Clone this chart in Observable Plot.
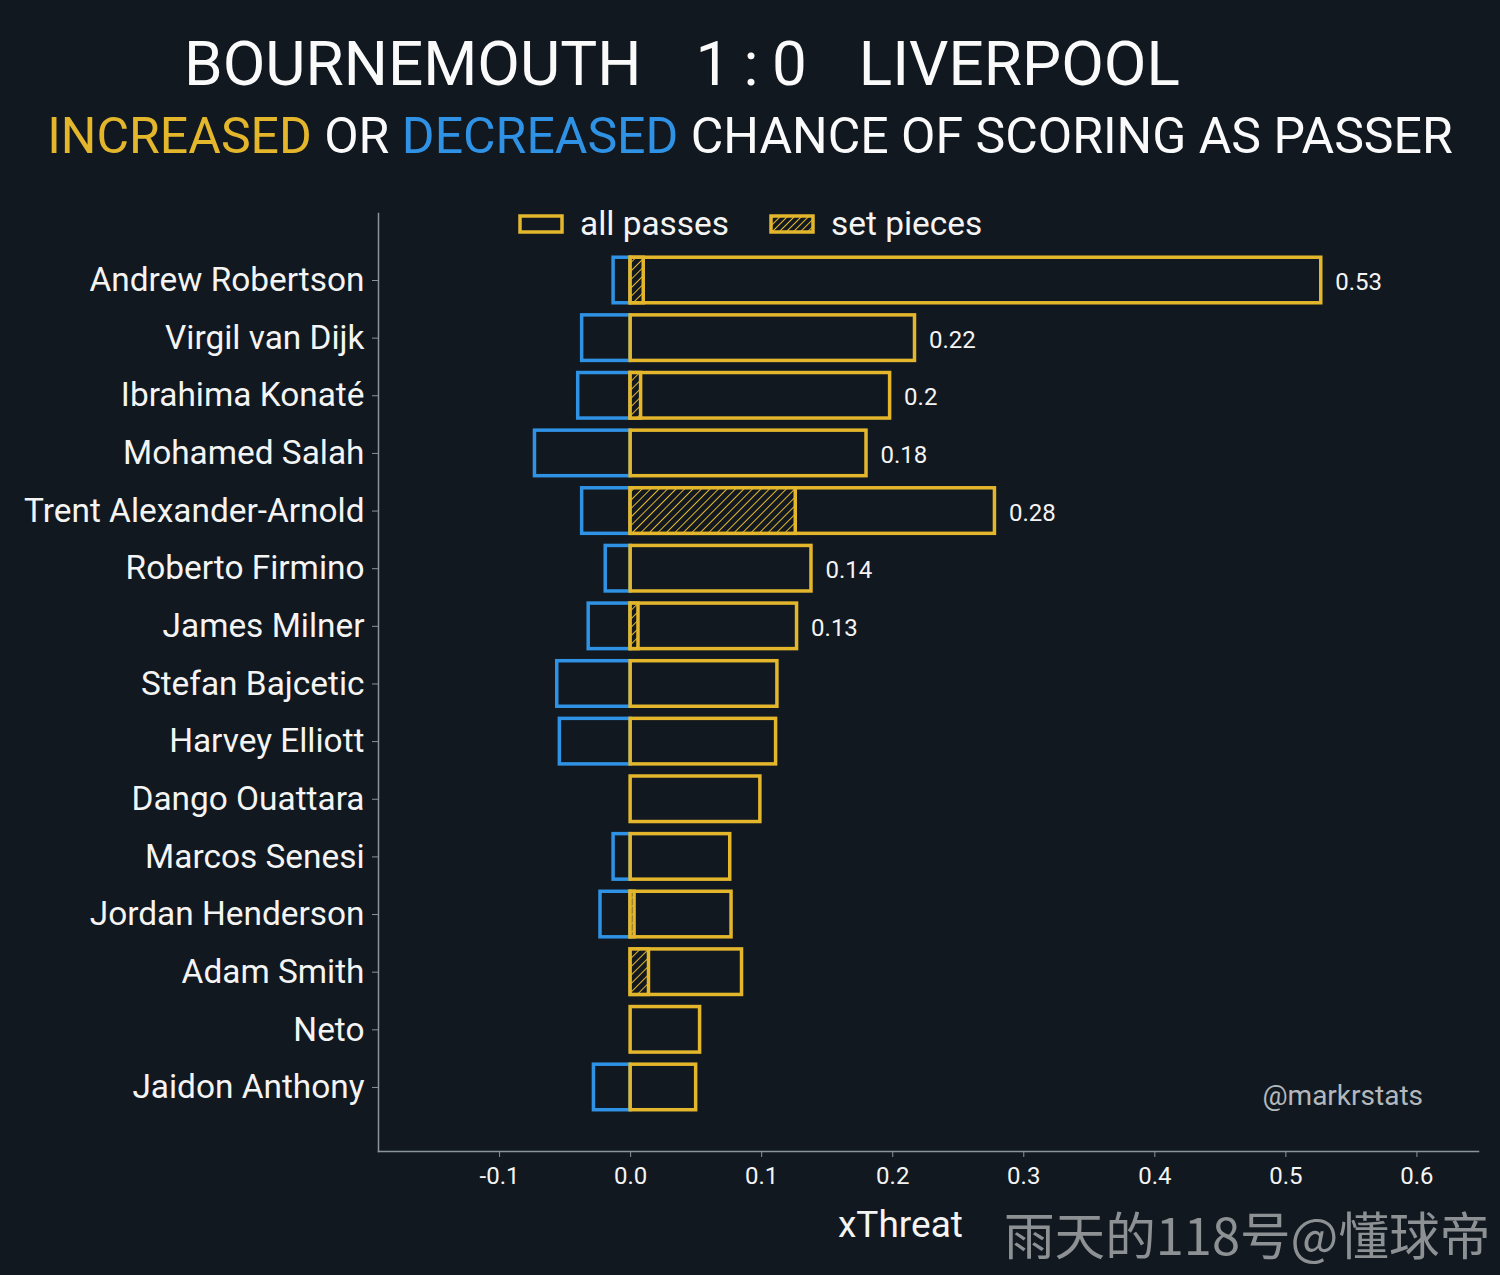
<!DOCTYPE html>
<html>
<head>
<meta charset="utf-8">
<script src="https://cdn.jsdelivr.net/npm/d3@7"></script>
<script src="https://cdn.jsdelivr.net/npm/@observablehq/plot@0.6"></script>
<style>
  html, body { margin: 0; padding: 0; background: #111820; }
  #wrap { position: relative; width: 1500px; height: 1275px; background: #111820; font-family: Roboto, "DejaVu Sans", sans-serif; color: #f4f4f4; overflow: hidden; }
  .abs { position: absolute; white-space: nowrap; }
  #title { top: 28px; left: 157px; text-align: left; font-size: 62px; line-height: 72px; color: #fafafa; }
  #title span { margin: 0 27px; }
  #title span.score { word-spacing: -2px; margin-right: 25px; }
  #subtitle { top: 104px; left: 0; width: 1500px; text-align: center; font-size: 50px; line-height: 64px; color: #fafafa; }
  .gold { color: #e3b62c; }
  .blue { color: #2f92e4; }
  #chart { position: absolute; left: 0; top: 180px; }
  #legend { top: 204px; left: 518px; font-size: 33.4px; line-height: 40px; display: flex; align-items: center; }
  #legend svg { display: block; }
  #xlabel { top: 1202px; left: 838px; font-size: 37px; line-height: 46px; }
  #credit { top: 1078px; right: 77px; font-size: 28px; line-height: 36px; color: #b3b8bd; }
  #watermark { top: 1202px; left: 1004px; font-size: 50.6px; line-height: 62px; color: #8d9194; font-family: "Noto Sans CJK SC", sans-serif; }
</style>
</head>
<body>
<div id="wrap">
  <div id="title" class="abs"><span>BOURNEMOUTH</span><span class="score">1 : 0</span><span>LIVERPOOL</span></div>
  <div id="subtitle" class="abs"><span class="gold">INCREASED</span> OR <span class="blue">DECREASED</span> CHANCE OF SCORING AS PASSER</div>
  <div id="chart"></div>
  <div id="legend" class="abs">
    <svg width="46" height="22"><rect x="2" y="3" width="42" height="16" fill="none" stroke="#e3b62c" stroke-width="3.5"/></svg>
    <span style="margin-left:16px">all passes</span>
    <svg width="46" height="22" style="margin-left:40px">
      <defs><pattern id="hatchLegend" width="5" height="5" patternUnits="userSpaceOnUse" patternTransform="rotate(45)"><line x1="0" y1="0" x2="0" y2="5" stroke="#e3b62c" stroke-width="2"/></pattern></defs>
      <rect x="2" y="3" width="42" height="16" fill="url(#hatchLegend)" stroke="#e3b62c" stroke-width="3.5"/></svg>
    <span style="margin-left:16px">set pieces</span>
  </div>
  <div id="xlabel" class="abs">xThreat</div>
  <div id="credit" class="abs">@markrstats</div>
  <div id="watermark" class="abs">雨天的118号@懂球帝</div>
</div>
<script>
const players = ["Andrew Robertson","Virgil van Dijk","Ibrahima Konaté","Mohamed Salah","Trent Alexander-Arnold","Roberto Firmino","James Milner","Stefan Bajcetic","Harvey Elliott","Dango Ouattara","Marcos Senesi","Jordan Henderson","Adam Smith","Neto","Jaidon Anthony"];
const positive = [0.527,0.217,0.198,0.180,0.278,0.138,0.127,0.112,0.111,0.099,0.076,0.077,0.085,0.053,0.050];
const negative = [-0.013,-0.037,-0.040,-0.073,-0.037,-0.019,-0.032,-0.056,-0.054,0,-0.013,-0.023,0,0,-0.028];
const setPieces = [0.010,0,0.008,0,0.126,0,0.006,0,0,0,0,0.003,0.014,0,0];
const xTicks = [-0.1,0,0.1,0.2,0.3,0.4,0.5,0.6];
const labelThreshold = 0.12;

const GOLD = "#e3b62c", BLUE = "#2f92e4";
const rows = players.map((name, i) => ({name, pos: positive[i], neg: negative[i], sp: setPieces[i]}));

const defs = () => {
  const g = d3.create("svg:defs");
  const p = g.append("pattern").attr("id", "hatch").attr("width", 6).attr("height", 6)
    .attr("patternUnits", "userSpaceOnUse").attr("patternTransform", "rotate(45)");
  p.append("rect").attr("width", 6).attr("height", 6).attr("fill", "#111820");
  p.append("line").attr("x1", 0).attr("y1", 0).attr("x2", 0).attr("y2", 6).attr("stroke", GOLD).attr("stroke-width", 2);
  return g.node();
};

const step = 57.64;
const plot = Plot.plot({
  width: 1500,
  height: 1095,
  marginLeft: 378,
  marginRight: 22,
  marginTop: 33,
  marginBottom: 124,
  style: {background: "transparent", color: "#f4f4f4", fontFamily: "Roboto, sans-serif"},
  x: {domain: [-0.1924, 0.647]},
  y: {domain: players, range: [100 - step / 2, 100 + step * 14.5], paddingInner: 0.21, paddingOuter: 0.105, round: false},
  marks: [
    defs,
    Plot.frame({anchor: "left", stroke: "#8a949c", strokeWidth: 1.5}),
    Plot.frame({anchor: "bottom", stroke: "#8a949c", strokeWidth: 1.5}),
    Plot.axisY({label: null, tickSize: 6, tickPadding: 8, fontSize: 33.4, fill: "#f4f4f4", stroke: "#8a949c"}),
    Plot.axisX({label: null, ticks: xTicks, tickFormat: d => d.toFixed(1), tickSize: 6, tickPadding: 9, fontSize: 24, fill: "#f4f4f4", stroke: "#8a949c"}),
    Plot.barX(rows.filter(d => d.neg < 0), {x1: 0, x2: "neg", y: "name", fill: "none", stroke: BLUE, strokeWidth: 3.5}),
    Plot.barX(rows, {x1: 0, x2: "pos", y: "name", fill: "none", stroke: GOLD, strokeWidth: 3.5}),
    Plot.barX(rows.filter(d => d.sp > 0), {x1: 0, x2: "sp", y: "name", fill: "url(#hatch)", stroke: GOLD, strokeWidth: 3.5}),
    Plot.text(rows.filter(d => d.pos > labelThreshold), {x: "pos", y: "name", text: d => String(Math.round(d.pos * 100) / 100), dx: 14, dy: 2, textAnchor: "start", fontSize: 24, fill: "#f4f4f4"})
  ]
});
document.getElementById("chart").appendChild(plot);
</script>
</body>
</html>
